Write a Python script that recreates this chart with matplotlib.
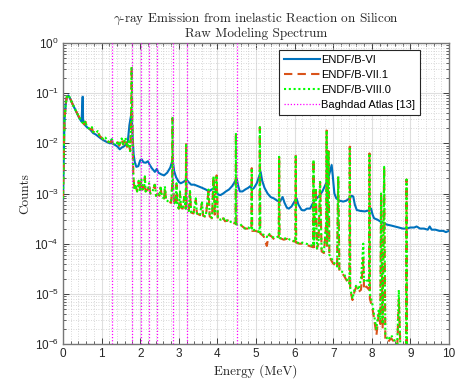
import matplotlib
matplotlib.use("Agg")
import matplotlib.pyplot as plt
from matplotlib.ticker import MultipleLocator, LogLocator, FixedLocator, FixedFormatter, NullFormatter

plt.rcParams['mathtext.fontset'] = 'cm'
plt.rcParams['font.family'] = ['Liberation Sans', 'DejaVu Sans']

# ---------------- data ----------------
energy_b6 = [
    0.00, 0.02, 0.04, 0.07, 0.10, 0.14, 0.18, 0.25, 0.33, 0.42,
    0.48, 0.50, 0.51, 0.52, 0.55, 0.62, 0.70, 0.78, 0.85, 0.95,
    1.05, 1.15, 1.22, 1.25, 1.26, 1.28, 1.35, 1.42, 1.47, 1.52,
    1.58, 1.63, 1.68, 1.72, 1.76, 1.78, 1.80, 1.83, 1.86, 1.90,
    1.95, 2.00, 2.04, 2.08, 2.14, 2.20, 2.24, 2.30, 2.38, 2.43,
    2.47, 2.55, 2.62, 2.70, 2.78, 2.84, 2.88, 2.93, 3.00, 3.05,
    3.12, 3.20, 3.25, 3.32, 3.40, 3.50, 3.60, 3.70, 3.78, 3.85,
    3.92, 3.96, 4.02, 4.08, 4.15, 4.22, 4.30, 4.38, 4.45, 4.50,
    4.54, 4.58, 4.65, 4.72, 4.80, 4.85, 4.90, 4.95, 5.02, 5.08,
    5.12, 5.16, 5.22, 5.30, 5.38, 5.46, 5.55, 5.62, 5.69, 5.74,
    5.80, 5.85, 5.92, 6.00, 6.05, 6.10, 6.18, 6.25, 6.32, 6.40,
    6.48, 6.57, 6.64, 6.72, 6.80, 6.86, 6.92, 6.96, 6.99, 7.03,
    7.08, 7.16, 7.26, 7.34, 7.42, 7.48, 7.52, 7.56, 7.61, 7.70,
    7.82, 7.92, 7.98, 8.02, 8.06, 8.15, 8.21, 8.30, 8.39, 8.50,
    8.60, 8.70, 8.80, 8.90, 9.00, 9.10, 9.16, 9.25, 9.35, 9.45,
    9.50, 9.55, 9.65, 9.75, 9.85, 9.92, 10.0,
]
counts_b6 = [
    8e-4, 6e-3, 3e-2, 6e-2, 8.5e-2, 9e-2, 8e-2, 6e-2, 4.5e-2, 3.2e-2,
    2.7e-2, 6e-2, 8.5e-2, 3e-2, 2.4e-2, 2.1e-2, 1.9e-2, 1.6e-2, 1.5e-2, 1.3e-2,
    1.15e-2, 1.05e-2, 1.0e-2, 1.05e-2, 1.2e-2, 9.8e-3, 9.3e-3, 8.5e-3, 7.6e-3, 8.2e-3,
    8.7e-3, 9.5e-3, 1.1e-2, 2.3e-2, 3.5e-2, 4e-2, 1.5e-2, 6e-3, 4.2e-3, 3.4e-3,
    3.5e-3, 4.6e-3, 4.8e-3, 4.2e-3, 4.1e-3, 4.4e-3, 3.8e-3, 3.2e-3, 2.7e-3, 3.1e-3,
    2.6e-3, 2.4e-3, 2.3e-3, 2.6e-3, 3.3e-3, 4.7e-3, 2.8e-3, 2.1e-3, 1.7e-3, 1.6e-3,
    1.7e-3, 1.9e-3, 1.7e-3, 1.5e-3, 1.5e-3, 1.4e-3, 1.3e-3, 1.2e-3, 1.1e-3, 1.2e-3,
    1.3e-3, 1.15e-3, 9.5e-4, 9.3e-4, 1.0e-3, 1.1e-3, 1.2e-3, 1.4e-3, 1.7e-3, 2.0e-3,
    1.4e-3, 1.1e-3, 1.1e-3, 1.2e-3, 1.3e-3, 1.4e-3, 1.2e-3, 1.3e-3, 1.6e-3, 2.2e-3,
    2.7e-3, 1.8e-3, 1.3e-3, 1.0e-3, 8.5e-4, 8e-4, 7.2e-4, 6.9e-4, 8.5e-4, 6.5e-4,
    5.2e-4, 5e-4, 5.5e-4, 7e-4, 8e-4, 6e-4, 4.7e-4, 4.6e-4, 5e-4, 5e-4,
    6.5e-4, 8e-4, 9e-4, 1.1e-3, 1.5e-3, 1.9e-3, 2.8e-3, 3.7e-3, 2.2e-3, 1.0e-3,
    8e-4, 7.2e-4, 6.9e-4, 7.2e-4, 8e-4, 9e-4, 8.7e-4, 6e-4, 4.7e-4, 4.5e-4,
    4.4e-4, 4.6e-4, 5e-4, 3.8e-4, 3.2e-4, 3e-4, 2.8e-4, 2.6e-4, 2.4e-4, 2.3e-4,
    2.2e-4, 2.1e-4, 2e-4, 2e-4, 2.1e-4, 2.1e-4, 2.2e-4, 2e-4, 2e-4, 1.9e-4,
    2.2e-4, 1.9e-4, 1.9e-4, 1.8e-4, 1.8e-4, 1.7e-4, 1.8e-4,
]

energy_b7_b8 = [
    0.00, 0.02, 0.04, 0.07, 0.10, 0.14, 0.18, 0.25, 0.33, 0.42,
    0.50, 0.55, 0.58, 0.61, 0.70, 0.75, 0.78, 0.85, 0.90, 0.95,
    1.05, 1.10, 1.15, 1.22, 1.27, 1.30, 1.38, 1.42, 1.46, 1.52,
    1.56, 1.62, 1.66, 1.70, 1.74, 1.765, 1.779, 1.795, 1.82, 1.85,
    1.88, 1.92, 1.96, 2.00, 2.03, 2.06, 2.10, 2.12, 2.14, 2.20,
    2.23, 2.26, 2.32, 2.38, 2.41, 2.45, 2.50, 2.53, 2.56, 2.62,
    2.64, 2.67, 2.72, 2.76, 2.80, 2.83, 2.839, 2.85, 2.88, 2.92,
    2.94, 2.96, 3.00, 3.03, 3.06, 3.10, 3.14, 3.18, 3.19, 3.20,
    3.26, 3.29, 3.32, 3.38, 3.44, 3.47, 3.55, 3.60, 3.63, 3.70,
    3.77, 3.80, 3.86, 3.90, 3.93, 3.98, 4.01, 4.08, 4.15, 4.20,
    4.28, 4.35, 4.47, 4.48, 4.49, 4.58, 4.65, 4.72, 4.80, 4.88,
    4.89, 4.90, 4.98, 5.09, 5.10, 5.11, 5.20, 5.28, 5.33, 5.40,
    5.48, 5.59, 5.60, 5.61, 5.72, 5.80, 5.88, 6.02, 6.03, 6.04,
    6.12, 6.20, 6.30, 6.38, 6.48, 6.49, 6.50, 6.55, 6.58, 6.62,
    6.66, 6.70, 6.76, 6.82, 6.83, 6.84, 6.88, 6.90, 6.96, 7.00,
    7.05, 7.10, 7.13, 7.16, 7.22, 7.28, 7.34, 7.42, 7.43, 7.44,
    7.50, 7.55, 7.60, 7.66, 7.72, 7.78, 7.80, 7.86, 7.93, 7.94,
    7.95, 8.02, 8.08, 8.12, 8.18, 8.22, 8.24, 8.28, 8.32, 8.35,
    8.42, 8.50, 8.58, 8.66, 8.70, 8.74, 8.80, 8.89, 8.90, 8.91,
]
counts_b8 = [
    8e-4, 6e-3, 3e-2, 6e-2, 8.5e-2, 9.2e-2, 8e-2, 6e-2, 4.5e-2, 3.3e-2,
    2.6e-2, 2.4e-2, 2.8e-2, 2.2e-2, 1.9e-2, 2.1e-2, 1.7e-2, 1.6e-2, 1.75e-2, 1.4e-2,
    1.2e-2, 1.3e-2, 1.1e-2, 1.05e-2, 1.2e-2, 9.8e-3, 9.5e-3, 1.1e-2, 9e-3, 1.25e-2,
    9.5e-3, 1.3e-2, 8.5e-3, 1.1e-2, 7e-3, 3e-2, 3.4e-1, 3e-2, 2.5e-3, 1.2e-3,
    1.5e-3, 1.1e-3, 1.8e-3, 1.1e-3, 1.9e-3, 1.2e-3, 1.3e-3, 2.2e-3, 1.1e-3, 1.2e-3,
    1.6e-3, 1.0e-3, 1.1e-3, 1.6e-3, 9e-4, 1.0e-3, 9e-4, 1.4e-3, 8.5e-4, 8e-4,
    1.4e-3, 7.5e-4, 7e-4, 6.8e-4, 7e-4, 1.5e-3, 3.2e-2, 1.5e-3, 6.5e-4, 6e-4,
    1.6e-3, 6e-4, 5e-4, 1.1e-3, 5.2e-4, 5e-4, 9e-4, 5e-4, 1.0e-2, 5e-4,
    4.5e-4, 1.2e-3, 4.2e-4, 4e-4, 8e-4, 4e-4, 3.7e-4, 7e-4, 3.6e-4, 3.5e-4,
    1.2e-3, 3.5e-4, 3.3e-4, 2.2e-3, 4e-4, 2.3e-3, 3.2e-4, 3e-4, 3.3e-4, 2.8e-4,
    3e-4, 2.7e-4, 2.6e-4, 1.6e-2, 2.4e-4, 2.5e-4, 2.2e-4, 2e-4, 2.1e-4, 1.9e-4,
    3.2e-3, 1.8e-4, 1.9e-4, 1.7e-4, 2.1e-2, 1.6e-4, 1.5e-4, 1.35e-4, 1.6e-4, 1.4e-4,
    1.3e-4, 1.4e-4, 5.4e-3, 1.3e-4, 1.25e-4, 1.3e-4, 1.2e-4, 1.1e-4, 5.9e-3, 1.1e-4,
    1.0e-4, 1.05e-4, 1.0e-4, 9.5e-5, 9e-5, 4.7e-3, 9e-5, 1.3e-3, 8e-5, 1.1e-4,
    1.7e-3, 7e-5, 7e-5, 3e-4, 1.8e-2, 1e-4, 7e-3, 6e-5, 5e-5, 4.2e-5,
    4e-5, 3.5e-5, 2.2e-3, 3e-5, 2.8e-5, 2.5e-5, 2e-5, 1.6e-5, 8.6e-3, 1.3e-5,
    8e-6, 1.2e-5, 1.5e-5, 1.2e-5, 2e-5, 1e-4, 1.8e-5, 2e-5, 1.5e-5, 6.3e-3,
    1e-5, 6e-6, 3e-6, 2e-6, 5e-6, 3e-6, 1e-3, 2.5e-6, 3.4e-3, 1.5e-6,
    1.2e-6, 1.5e-6, 1.2e-6, 1e-6, 1.2e-5, 9e-7, 8e-7, 6e-7, 1.9e-3, 5e-7,
]
counts_b7 = [
    8e-4, 6e-3, 3e-2, 6e-2, 8.5e-2, 9.2e-2, 8e-2, 6e-2, 4.5e-2, 3.3e-2,
    2.6e-2, 2.4e-2, 2.7e-2, 2.2e-2, 1.9e-2, 2.0e-2, 1.7e-2, 1.6e-2, 1.7e-2, 1.4e-2,
    1.2e-2, 1.25e-2, 1.1e-2, 1.05e-2, 1.15e-2, 9.8e-3, 9.5e-3, 1.05e-2, 9e-3, 1.2e-2,
    9.5e-3, 1.25e-2, 8.5e-3, 1.05e-2, 7e-3, 3e-2, 3.4e-1, 3e-2, 2.5e-3, 1.2e-3,
    1.4e-3, 1.1e-3, 1.7e-3, 1.1e-3, 1.8e-3, 1.2e-3, 1.3e-3, 2.1e-3, 1.1e-3, 1.2e-3,
    1.5e-3, 1.0e-3, 1.1e-3, 1.5e-3, 9e-4, 1.0e-3, 9e-4, 1.3e-3, 8.5e-4, 8e-4,
    1.3e-3, 7.5e-4, 7e-4, 6.8e-4, 6.5e-4, 1.5e-3, 3.2e-2, 1.5e-3, 6.2e-4, 6e-4,
    1.5e-3, 6e-4, 5e-4, 1.0e-3, 5.2e-4, 5e-4, 8.5e-4, 5e-4, 1.0e-2, 5e-4,
    4.5e-4, 1.1e-3, 4.2e-4, 4e-4, 7.5e-4, 4e-4, 3.7e-4, 6.5e-4, 3.6e-4, 3.4e-4,
    1.1e-3, 3.5e-4, 3.2e-4, 2.2e-3, 3.8e-4, 2.3e-3, 3.1e-4, 3e-4, 3.2e-4, 2.8e-4,
    2.9e-4, 2.7e-4, 2.5e-4, 1.6e-2, 2.4e-4, 2.4e-4, 2.2e-4, 2e-4, 2.0e-4, 1.9e-4,
    3.2e-3, 1.8e-4, 1.8e-4, 1.7e-4, 2.1e-2, 1.6e-4, 1.4e-4, 9e-5, 1.5e-4, 1.4e-4,
    1.2e-4, 1.3e-4, 5.4e-3, 1.3e-4, 1.2e-4, 1.25e-4, 1.15e-4, 1.1e-4, 5.9e-3, 1.05e-4,
    1.0e-4, 1.0e-4, 9.5e-5, 9e-5, 8.5e-5, 4.7e-3, 8.5e-5, 1.3e-3, 8e-5, 1.0e-4,
    1.7e-3, 7e-5, 6.5e-5, 2.5e-4, 1.8e-2, 9e-5, 7e-3, 5.5e-5, 4.5e-5, 4e-5,
    3.8e-5, 3.3e-5, 2.2e-3, 2.8e-5, 2.6e-5, 2.3e-5, 1.9e-5, 1.5e-5, 8.6e-3, 1.2e-5,
    7.5e-6, 1.1e-5, 1.4e-5, 1.1e-5, 1.2e-5, 5e-5, 1.2e-5, 1.4e-5, 1.2e-5, 6.3e-3,
    8e-6, 5e-6, 2.5e-6, 1.5e-6, 4e-6, 2.5e-6, 1e-3, 2e-6, 3.4e-3, 1.2e-6,
    1.1e-6, 1.3e-6, 1.1e-6, 9e-7, 8e-6, 8e-7, 7e-7, 5e-7, 1.9e-3, 4e-7,
]

baghdad_lines = [1.273, 1.779, 2.028, 2.235, 2.426, 2.839, 3.201, 4.497]

series_labels = ['ENDF/B-VI', 'ENDF/B-VII.1', 'ENDF/B-VIII.0', 'Baghdad Atlas [13]']
x_ticks = list(range(0, 11))
y_ticks = [1e-6, 1e-5, 1e-4, 1e-3, 1e-2, 1e-1, 1e0]
y_tick_labels = [r'$\mathregular{10^{-6}}$', r'$\mathregular{10^{-5}}$', r'$\mathregular{10^{-4}}$',
                 r'$\mathregular{10^{-3}}$', r'$\mathregular{10^{-2}}$', r'$\mathregular{10^{-1}}$',
                 r'$\mathregular{10^{0}}$']

# ---------------- figure ----------------
fig = plt.figure(figsize=(4.61, 3.81), dpi=100)
ax = fig.add_axes([63 / 461, 1 - 344 / 381, 386 / 461, 301 / 381])

ax.plot(energy_b6, counts_b6, color='#0072BD', lw=1.5, label=series_labels[0], zorder=3)
ax.plot(energy_b7_b8, counts_b7, color='#D95319', lw=1.5, ls=(0, (4, 2.5)), label=series_labels[1], zorder=4)
ax.plot(energy_b7_b8, counts_b8, color='#00FF00', lw=1.5, ls=(0, (1, 1.3)), label=series_labels[2], zorder=5)
for i, e in enumerate(baghdad_lines):
    ax.axvline(e, color='#FF00FF', lw=0.9, ls=(0, (1, 1.5)),
               label=series_labels[3] if i == 0 else None, zorder=6)

ax.set_yscale('log')
ax.set_xlim(0, 10)
ax.set_ylim(1e-6, 1)

ax.xaxis.set_major_locator(FixedLocator(x_ticks))
ax.xaxis.set_minor_locator(MultipleLocator(0.2))
ax.yaxis.set_major_locator(FixedLocator(y_ticks))
ax.yaxis.set_major_formatter(FixedFormatter(y_tick_labels))
ax.yaxis.set_minor_locator(LogLocator(base=10, subs=range(2, 10), numticks=20))
ax.yaxis.set_minor_formatter(NullFormatter())

ax.grid(True, which='major', color='#dfdfdf', lw=0.8, ls='-', zorder=0)
ax.grid(True, which='minor', color='#cccccc', lw=0.6, ls=(0, (1, 2)), zorder=0)
ax.set_axisbelow(True)

ax.tick_params(which='both', direction='in', top=True, right=True, color='#262626')
ax.tick_params(which='major', length=4, width=0.6, labelsize=8.5, labelcolor='#262626', pad=3)
ax.tick_params(which='minor', length=2, width=0.5)
for s in ax.spines.values():
    s.set_color('#777777')
    s.set_linewidth(1.0)

ax.set_xlabel('Energy (MeV)', fontfamily='cmr10', fontsize=9.5, color='#262626', labelpad=3)
ax.set_ylabel('Counts', fontfamily='cmr10', fontsize=9.5, color='#262626', labelpad=2)
ax.set_title(r'$\gamma$-ray Emission from inelastic Reaction on Silicon' + '\n' + 'Raw Modeling Spectrum',
             fontfamily='cmr10', fontsize=9.5, color='#262626', pad=4, linespacing=1.1)

leg = ax.legend(loc='upper right', bbox_to_anchor=(0.925, 0.977), fontsize=8,
                frameon=True, fancybox=False, framealpha=1, edgecolor='#262626',
                handlelength=3.2, borderpad=0.45, labelspacing=0.45, handletextpad=0.1,
                borderaxespad=0)
leg.get_frame().set_linewidth(0.8)

fig.savefig('out.png', dpi=100)
